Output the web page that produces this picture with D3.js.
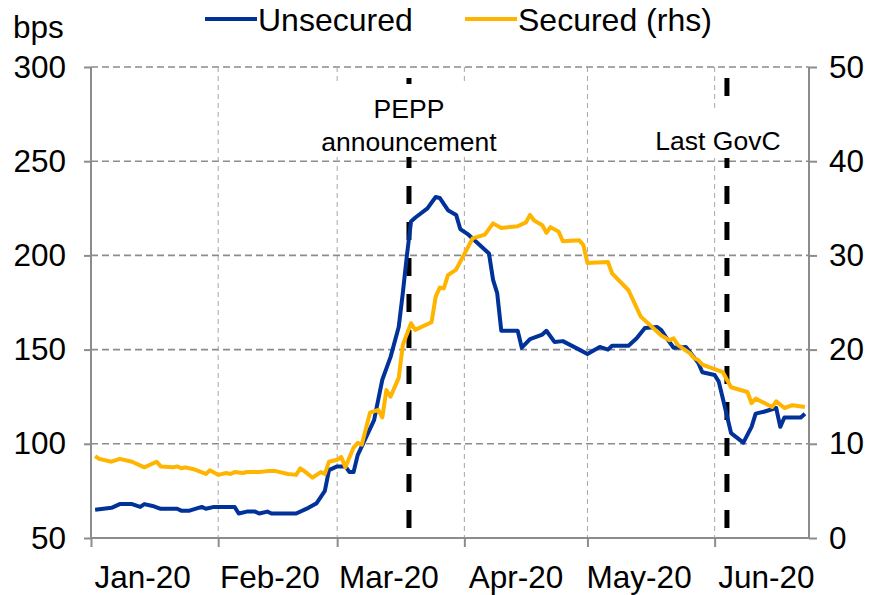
<!DOCTYPE html>
<html>
<head>
<meta charset="utf-8">
<script src="https://cdn.jsdelivr.net/npm/d3@7"></script>
<style>
  html, body { margin: 0; padding: 0; background: #fff; }
  svg { display: block; font-family: "Liberation Sans", Arial, sans-serif; }
</style>
</head>
<body>
<svg id="chart" width="879" height="595"></svg>
<script>
// ---------- DATA ----------
const unsecuredDates = ["2020-01-02","2020-01-06","2020-01-08","2020-01-11","2020-01-13","2020-01-14","2020-01-16","2020-01-18","2020-01-22","2020-01-23","2020-01-25","2020-01-28","2020-01-29","2020-01-31","2020-02-05","2020-02-06","2020-02-08","2020-02-10","2020-02-11","2020-02-13","2020-02-14","2020-02-20","2020-02-23","2020-02-25","2020-02-27","2020-02-28","2020-03-01","2020-03-03","2020-03-04","2020-03-05","2020-03-06","2020-03-10","2020-03-12","2020-03-14","2020-03-16","2020-03-17","2020-03-18","2020-03-19","2020-03-20","2020-03-23","2020-03-25","2020-03-26","2020-03-28","2020-03-30","2020-03-31","2020-04-02","2020-04-07","2020-04-08","2020-04-09","2020-04-10","2020-04-14","2020-04-15","2020-04-17","2020-04-20","2020-04-21","2020-04-23","2020-04-25","2020-04-29","2020-05-01","2020-05-04","2020-05-06","2020-05-07","2020-05-11","2020-05-13","2020-05-15","2020-05-18","2020-05-19","2020-05-20","2020-05-22","2020-05-25","2020-05-28","2020-05-29","2020-06-01","2020-06-02","2020-06-03","2020-06-05","2020-06-08","2020-06-10","2020-06-11","2020-06-13","2020-06-16","2020-06-17","2020-06-18","2020-06-22","2020-06-23"];
const unsecuredValues = [65,66,68,68,66.5,68,67,65.5,65.5,64.5,64.5,66.5,65.5,66.5,66.5,63,64,64,63,64,63,63,66,68.5,75,86,88,88,85,85,94,112.6,134,146,162,180,200,218,220,225,231,230.5,224,221.5,214,211,201,187,180,160,160,151,155.6,158,160,154,154.5,150,147.7,151.4,150,152,152,156,161.5,162,160.4,157,151,151.4,143,138,136.5,133,124,105.7,100.6,109,116,117,119,109,114,114,116];

const securedDates = ["2020-01-02","2020-01-03","2020-01-06","2020-01-08","2020-01-11","2020-01-14","2020-01-17","2020-01-18","2020-01-21","2020-01-22","2020-01-23","2020-01-24","2020-01-26","2020-01-29","2020-01-30","2020-02-01","2020-02-03","2020-02-04","2020-02-05","2020-02-07","2020-02-08","2020-02-11","2020-02-13","2020-02-15","2020-02-18","2020-02-20","2020-02-21","2020-02-22","2020-02-24","2020-02-26","2020-02-27","2020-02-28","2020-03-01","2020-03-02","2020-03-03","2020-03-05","2020-03-06","2020-03-07","2020-03-09","2020-03-11","2020-03-12","2020-03-13","2020-03-14","2020-03-16","2020-03-17","2020-03-19","2020-03-20","2020-03-24","2020-03-25","2020-03-26","2020-03-27","2020-03-28","2020-03-30","2020-04-03","2020-04-06","2020-04-08","2020-04-10","2020-04-14","2020-04-16","2020-04-17","2020-04-18","2020-04-20","2020-04-21","2020-04-22","2020-04-24","2020-04-25","2020-04-29","2020-04-30","2020-05-01","2020-05-06","2020-05-07","2020-05-11","2020-05-14","2020-05-19","2020-05-21","2020-05-22","2020-05-23","2020-05-26","2020-05-27","2020-05-28","2020-05-29","2020-06-03","2020-06-05","2020-06-09","2020-06-10","2020-06-11","2020-06-15","2020-06-16","2020-06-18","2020-06-20","2020-06-23"];
const securedValues = [8.7,8.4,8.1,8.4,8.1,7.5,8.1,7.6,7.5,7.6,7.4,7.5,7.3,6.8,7.2,6.7,6.9,6.8,7.0,6.9,7.0,7.0,7.1,7.1,6.8,6.7,7.4,7.1,6.4,7.0,6.8,8.1,8.3,8.6,7.5,9.6,10.1,9.9,13.3,13.6,12.8,15.7,15.0,17.0,20.5,22.8,22.1,22.9,25.6,26.6,26.5,27.9,28.5,31.8,32.2,33.4,32.9,33.1,33.5,34.3,33.7,33.2,32.4,33.0,32.5,31.5,31.6,31.1,29.2,29.3,28.1,26.3,23.5,21.5,21.0,21.2,20.5,19.6,19.1,18.9,18.4,17.6,16.0,15.5,14.3,14.8,13.9,14.5,13.8,14.1,13.9];

const leftTicks = [50,100,150,200,250,300];
const rightTicks = [0,10,20,30,40,50];
const monthStarts = ["2020-01-01","2020-02-01","2020-03-01","2020-04-01","2020-05-01","2020-06-01"];
const monthLabels = ["Jan-20","Feb-20","Mar-20","Apr-20","May-20","Jun-20"];
const axisEnd = "2020-06-24";
const events = [
  {date: "2020-03-18T12:00", lines: ["PEPP", "announcement"]},
  {date: "2020-06-04T00:00", lines: ["Last GovC"]}
];
const seriesNames = ["Unsecured", "Secured (rhs)"];

// ---------- LAYOUT ----------
const L = 91, R = 809, T = 67, B = 538;
const BLUE = "#003299", YELLOW = "#FFB400", GRID = "#8c8c8c", AXIS = "#8c8c8c";
const FONT = 31.5;

const parseD = d3.timeParse("%Y-%m-%d");
const parseDT = d3.timeParse("%Y-%m-%dT%H:%M");

const x = d3.scaleTime().domain([parseD(monthStarts[0]), parseD(axisEnd)]).range([L, R]);
const yL = d3.scaleLinear().domain([50, 300]).range([B, T]);
const yR = d3.scaleLinear().domain([0, 50]).range([B, T]);

const svg = d3.select("#chart");

// horizontal gridlines
svg.append("g").selectAll("line").data(leftTicks.filter(v => v > 50)).join("line")
  .attr("x1", L).attr("x2", R)
  .attr("y1", d => yL(d)).attr("y2", d => yL(d))
  .attr("stroke", GRID).attr("stroke-width", 1.6).attr("stroke-dasharray", "7,4");

// vertical gridlines
svg.append("g").selectAll("line").data(monthStarts.slice(1)).join("line")
  .attr("x1", d => x(parseD(d))).attr("x2", d => x(parseD(d)))
  .attr("y1", T).attr("y2", B)
  .attr("stroke", "#a6a6a6").attr("stroke-width", 1).attr("stroke-dasharray", "5,4");

// axes
const gL = svg.append("g").attr("transform", `translate(${L},0)`)
  .call(d3.axisLeft(yL).tickValues(leftTicks).tickSize(7).tickPadding(18));
const gR = svg.append("g").attr("transform", `translate(${R},0)`)
  .call(d3.axisRight(yR).tickValues(rightTicks).tickSize(8).tickPadding(12));
const gB = svg.append("g").attr("transform", `translate(0,${B})`)
  .call(d3.axisBottom(x).tickValues(monthStarts.map(parseD)).tickSize(9).tickFormat(""));

[gL, gR, gB].forEach(g => {
  g.select(".domain").attr("stroke", AXIS).attr("stroke-width", 2);
  g.selectAll(".tick line").attr("stroke", AXIS).attr("stroke-width", 2);
  g.selectAll("text").attr("font-size", FONT).attr("fill", "#000")
    .attr("font-family", '"Liberation Sans", Arial, sans-serif');
});
gL.select(".domain").attr("d", `M0,${B}V${T}`);
gR.select(".domain").attr("d", `M0,${B}V${T}`);
gB.select(".domain").attr("d", `M${L},0H${R}`);

// month labels: centred about half a month after each tick
const halfMonth = (R - L) / 175 * 12.6;
svg.append("g").selectAll("text").data(monthLabels).join("text")
  .attr("x", (d, i) => x(parseD(monthStarts[i])) + halfMonth)
  .attr("y", 588)
  .attr("text-anchor", "middle")
  .attr("font-size", FONT)
  .text(d => d);

// event dashed lines
svg.append("g").selectAll("line").data(events).join("line")
  .attr("x1", d => x(parseDT(d.date))).attr("x2", d => x(parseDT(d.date)))
  .attr("y1", 78).attr("y2", 528)
  .attr("stroke", "#000").attr("stroke-width", 5).attr("stroke-dasharray", "18,18");

// series lines
const lineL = d3.line().x(d => x(d[0])).y(d => yL(d[1]));
const lineR = d3.line().x(d => x(d[0])).y(d => yR(d[1]));
const uData = unsecuredDates.map((d, i) => [parseD(d), unsecuredValues[i]]);
const sData = securedDates.map((d, i) => [parseD(d), securedValues[i]]);

svg.append("path").datum(uData).attr("d", lineL)
  .attr("fill", "none").attr("stroke", BLUE).attr("stroke-width", 4).attr("stroke-linejoin", "round");
svg.append("path").datum(sData).attr("d", lineR)
  .attr("fill", "none").attr("stroke", YELLOW).attr("stroke-width", 4).attr("stroke-linejoin", "round");

// annotation labels with white boxes
const ANN = 26.5;
const ev0 = x(parseDT(events[0].date));
svg.append("rect").attr("x", ev0 - 89).attr("y", 84).attr("width", 180).attr("height", 73).attr("fill", "#fff");
svg.append("text").attr("x", ev0).attr("y", 118).attr("text-anchor", "middle").attr("font-size", ANN).text(events[0].lines[0]);
svg.append("text").attr("x", ev0).attr("y", 151).attr("text-anchor", "middle").attr("font-size", ANN).text(events[0].lines[1]);

const ev1 = x(parseDT(events[1].date));
svg.append("rect").attr("x", ev1 - 77).attr("y", 112).attr("width", 138).attr("height", 46).attr("fill", "#fff");
svg.append("text").attr("x", ev1 - 9).attr("y", 150).attr("text-anchor", "middle").attr("font-size", ANN).text(events[1].lines[0]);

// y unit
svg.append("text").attr("x", 13).attr("y", 38).attr("font-size", FONT).text("bps");

// legend
const legend = [
  {name: seriesNames[0], color: BLUE, x0: 205},
  {name: seriesNames[1], color: YELLOW, x0: 465}
];
const lg = svg.append("g").selectAll("g").data(legend).join("g");
lg.append("line").attr("x1", d => d.x0).attr("x2", d => d.x0 + 52).attr("y1", 19).attr("y2", 19)
  .attr("stroke", d => d.color).attr("stroke-width", 4);
lg.append("text").attr("x", d => d.x0 + 53).attr("y", 31).attr("font-size", FONT + 0.5).text(d => d.name);
</script>
</body>
</html>
